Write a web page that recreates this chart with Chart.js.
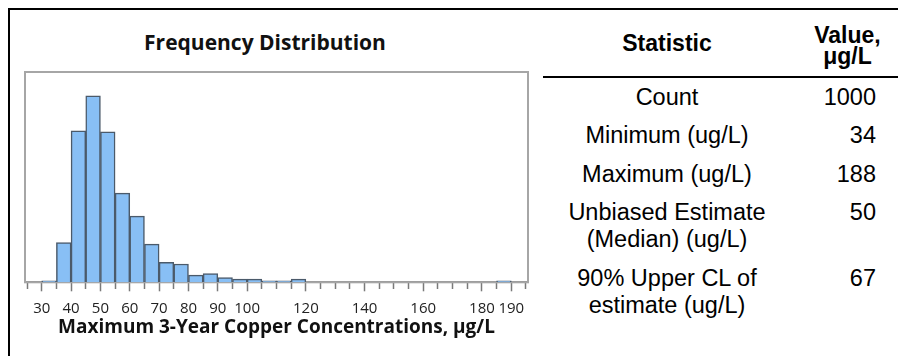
<!DOCTYPE html>
<html>
<head>
<meta charset="utf-8">
<script src="https://cdn.jsdelivr.net/npm/chart.js@4/dist/chart.umd.min.js"></script>
<style>
  body{margin:0;background:#fff;width:898px;height:356px;overflow:hidden;position:relative;}
  #frame{position:absolute;left:8px;top:8px;width:890px;height:350px;border-left:2px solid #000;border-top:2px solid #000;box-sizing:border-box;}
  #title{position:absolute;left:0;width:530px;top:28px;line-height:28px;text-align:center;
         font:bold 21px "Open Sans",sans-serif;color:#111;}
  #chartBox{position:absolute;left:10px;top:60px;width:530px;height:290px;}
  #stats{position:absolute;left:543px;top:10px;width:355px;border-collapse:collapse;
         font-family:"Liberation Sans",Arial,sans-serif;color:#000;}
  #stats th{font-weight:bold;font-size:23px;line-height:21px;height:67px;padding:0;border-bottom:2px solid #000;box-sizing:border-box;}
  #stats th.stat{width:248px;text-align:center;}
  #stats th.val{text-align:center;padding-left:6px;padding-top:5px;}
  #stats td{font-size:23.5px;line-height:27px;padding:5.75px 0;vertical-align:top;white-space:pre-line;}
  #stats td.name{text-align:center;}
  #stats td.num{text-align:right;padding-right:22px;}
</style>
</head>
<body>
<div id="frame"></div>
<div id="title">Frequency Distribution</div>
<div id="chartBox"><canvas id="hist" width="530" height="290"></canvas></div>
<table id="stats">
  <thead><tr><th class="stat">Statistic</th><th class="val">Value,<br>μg/L</th></tr></thead>
  <tbody></tbody>
</table>
<script>
// histogram bins (lower edge, 5 ug/L wide) and counts
const binWidth = 5;
const binStarts = [30,35,40,45,50,55,60,65,70,75,80,85,90,95,100,105,110,115,185];
const binCounts = [2,50,190,234,189,112,83,48,25,23,9,11,6,4,4,2,2,4,2];

// x axis: tick marks every 5, labels only on some of them
const tickMarks = [];
for(let v=25; v<=195; v+=5) tickMarks.push(v);
const tickLabels = [30,40,50,60,70,80,90,100,120,140,160,180,190];

// summary statistics table
const statNames = ["Count","Minimum (ug/L)","Maximum (ug/L)","Unbiased Estimate\n(Median) (ug/L)","90% Upper CL of\nestimate (ug/L)"];
const statValues = ["1000","34","188","50","67"];

// === Table ===
const tb = document.querySelector("#stats tbody");
statNames.forEach((n,i)=>{
  const tr = document.createElement("tr");
  tr.innerHTML = `<td class="name">${n}</td><td class="num">${statValues[i]}</td>`;
  tb.appendChild(tr);
});

// === Chart ===
const plotFrame = {
  id:"plotFrame",
  beforeDatasetsDraw(chart){
    const a = chart.chartArea, c = chart.ctx;
    c.save();
    c.strokeStyle = "#a6a6a6"; c.lineWidth = 2;
    c.strokeRect(a.left, a.top, a.right-a.left, a.bottom-a.top);
    c.restore();
  }
};

new Chart(document.getElementById("hist").getContext("2d"), {
  type:"bar",
  data:{
    datasets:[{
      data: binStarts.map((b,i)=>({x:b+binWidth/2, y:binCounts[i]})),
      backgroundColor:"#88bff5",
      borderColor:"#4b5a6a",
      borderWidth:1.5,
      barPercentage:1,
      categoryPercentage:1
    }]
  },
  options:{
    responsive:false,
    animation:false,
    devicePixelRatio:1,
    layout:{padding:{left:15,right:12,top:12,bottom:11.5}},
    plugins:{legend:{display:false},tooltip:{enabled:false}},
    scales:{
      x:{
        type:"linear", min:24.3, max:195.7, offset:false,
        afterBuildTicks: s=>{ s.ticks = tickMarks.map(v=>({value:v})); },
        ticks:{autoSkip:false, maxRotation:0, padding:8, color:"#222",
               font:{family:"Open Sans", size:15},
               callback: v=> tickLabels.includes(v) ? String(v) : ""},
        grid:{offset:false, drawOnChartArea:false, tickLength:9, tickColor:"#7a7a7a", tickWidth:1.5,
              tickBorderDash: ctx=> (ctx.tick && tickLabels.includes(ctx.tick.value)) ? [] : [6,20]},
        border:{color:"#8c8c8c", width:2},
        title:{display:true, text:"Maximum 3-Year Copper Concentrations, μg/L", color:"#111",
               font:{family:"Open Sans", size:19, weight:"bold"}, padding:{top:-9.6,bottom:0}}
      },
      y:{display:false, min:0, max:264}
    }
  },
  plugins:[plotFrame]
});
</script>
</body>
</html>
